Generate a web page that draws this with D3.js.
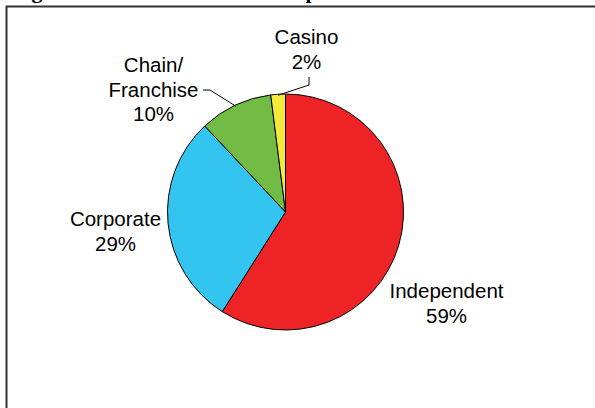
<!DOCTYPE html>
<html>
<head>
<meta charset="utf-8">
<script src="https://cdn.jsdelivr.net/npm/d3@7"></script>
<style>
  html, body { margin: 0; padding: 0; background: #fff; }
  svg { display: block; }
</style>
</head>
<body>
<svg id="chart" width="595" height="408"></svg>
<script>
// Ownership shares (percent)
const categories = ["Independent", "Corporate", "Chain/\nFranchise", "Casino"];
const shares = [59, 29, 10, 2];
const colors = ["#EE2326", "#33C4EF", "#72BB44", "#F2E93B"];
const titleText = "Figure 2: Restaurant Ownership";

const svg = d3.select("#chart");

// Title (only its lower edge falls inside the page)
svg.append("text")
  .attr("x", 12)
  .attr("y", -2)
  .attr("font-family", "'Liberation Serif', 'Times New Roman', serif")
  .attr("font-weight", "bold")
  .attr("font-size", 22)
  .attr("fill", "#000")
  .text(titleText);

// Chart frame
svg.append("rect")
  .attr("x", 6.5).attr("y", 6.5)
  .attr("width", 620).attr("height", 430)
  .attr("fill", "none")
  .attr("stroke", "#333")
  .attr("stroke-width", 2);

const cx = 285.5, cy = 212, r = 118;

const pie = d3.pie().sort(null).value(d => d)
  .startAngle(0).endAngle(2 * Math.PI);
const arcs = pie(shares);
const arc = d3.arc().innerRadius(0).outerRadius(r);

const g = svg.append("g").attr("transform", `translate(${cx},${cy})`);

g.selectAll("path.slice")
  .data(arcs)
  .join("path")
  .attr("class", "slice")
  .attr("d", arc)
  .attr("fill", (d, i) => colors[i])
  .attr("stroke", "#000")
  .attr("stroke-width", 1)
  .attr("stroke-linejoin", "round");

// Label placement relative to the pie centre: [dx, baseline dy]
const labelPos = [
  [161, 86],
  [-170, 14],
  [-132, -140],
  [21, -168]
];
const lineH = 24.5;

const labels = svg.append("g")
  .attr("font-family", "'Liberation Sans', Arial, sans-serif")
  .attr("font-size", 20.5)
  .attr("fill", "#000")
  .attr("text-anchor", "middle");

arcs.forEach((d, i) => {
  const lines = categories[i].split("\n").concat([shares[i] + "%"]);
  const t = labels.append("text")
    .attr("x", cx + labelPos[i][0])
    .attr("y", cy + labelPos[i][1]);
  lines.forEach((ln, k) => {
    t.append("tspan")
      .attr("x", cx + labelPos[i][0])
      .attr("dy", k === 0 ? 0 : lineH)
      .text(ln);
  });
});

// Leader lines for the two small slices
const edgePoint = (d, rr) => {
  const a = (d.startAngle + d.endAngle) / 2;
  return [cx + rr * Math.sin(a), cy - rr * Math.cos(a)];
};
const leaders = [
  { i: 2, pts: [[203, 90], [210, 90]] },
  { i: 3, pts: [[309, 77], [309, 85]] }
];
leaders.forEach(l => {
  const p = l.pts.concat([edgePoint(arcs[l.i], r - 1)]);
  svg.append("path")
    .attr("d", d3.line()(p))
    .attr("fill", "none")
    .attr("stroke", "#000")
    .attr("stroke-width", 1);
});
</script>
</body>
</html>
